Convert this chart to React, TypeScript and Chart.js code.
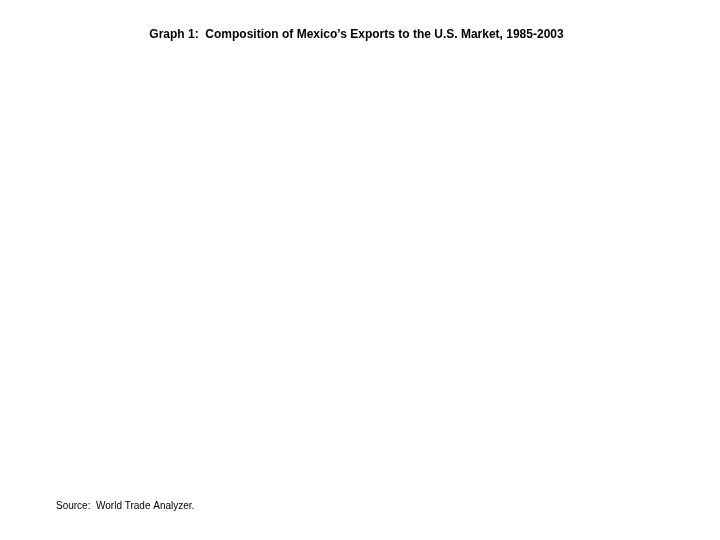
import React, { useEffect, useRef } from "react";
import Chart from "chart.js/auto";

const titleText = "Graph 1:  Composition of Mexico\u2019s Exports to the U.S. Market, 1985-2003";
const sourceText = "Source:  World Trade Analyzer.";
const years = [
  "1985", "1986", "1987", "1988", "1989", "1990", "1991", "1992", "1993", "1994",
  "1995", "1996", "1997", "1998", "1999", "2000", "2001", "2002", "2003",
];
// The plot area of the reference is blank: no series values are visible.
const seriesValues: (number | null)[] = [];

export default function App() {
  const canvasRef = useRef<HTMLCanvasElement | null>(null);

  useEffect(() => {
    document.body.style.margin = "0";
    const ctx = canvasRef.current;
    if (!ctx) return;
    const chart = new Chart(ctx, {
      type: "line",
      data: {
        labels: years,
        datasets: [
          {
            label: "Exports",
            data: seriesValues,
            borderColor: "rgba(0,0,0,0)",
            pointRadius: 0,
          },
        ],
      },
      options: {
        animation: false,
        responsive: false,
        maintainAspectRatio: false,
        devicePixelRatio: 1,
        layout: { padding: { left: 56, right: 63, top: 0, bottom: 0 } },
        scales: {
          x: { display: false },
          y: { display: false },
        },
        plugins: {
          legend: { display: false },
          tooltip: { enabled: false },
          title: {
            display: true,
            text: titleText,
            color: "#000",
            font: { family: "'Liberation Sans', Arial, sans-serif", size: 12, weight: "bold" },
            padding: { top: 27, bottom: 10 },
          },
          subtitle: {
            display: true,
            text: sourceText,
            position: "bottom",
            align: "start",
            color: "#000",
            font: { family: "'Liberation Sans', Arial, sans-serif", size: 10, weight: "normal" },
            padding: { top: 10, bottom: 28 },
          },
        },
      },
    });
    return () => chart.destroy();
  }, []);

  return (
    <div style={{ position: "absolute", left: 0, top: 0, width: 720, height: 540, background: "#fff" }}>
      <canvas ref={canvasRef} width={720} height={540} style={{ width: 720, height: 540 }} />
    </div>
  );
}
